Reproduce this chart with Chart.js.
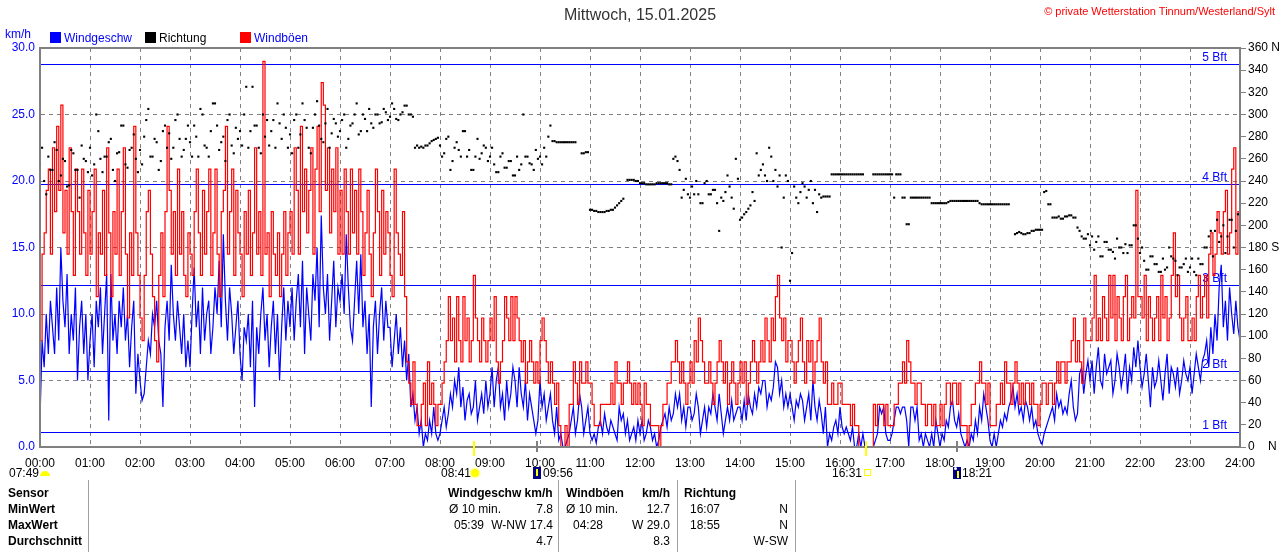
<!DOCTYPE html>
<html>
<head>
<meta charset="utf-8">
<title>Wind 15.01.2025</title>
<script src="https://cdn.jsdelivr.net/npm/chart.js@4.4.1/dist/chart.umd.min.js"></script>
<style>
  body { margin: 0; background: #fff; font-family: "Liberation Sans", Arial, sans-serif; }
  #page { position: relative; width: 1280px; height: 552px; overflow: hidden; background: #fff; }
  #chartBox { position: absolute; left: 0; top: 0; width: 1280px; height: 480px; }
  .t { position: absolute; font-size: 12px; line-height: 14px; white-space: nowrap; color: #000; }
  .r { text-align: right; }
  .b { font-weight: bold; }
  .box { position: absolute; width: 11px; height: 11px; }
  .vl { position: absolute; top: 480px; width: 1px; height: 72px; background: #a0a0a0; }
  .ico { position: absolute; }
</style>
</head>
<body>
<div id="page">
  <div id="chartBox"><canvas id="windChart"></canvas></div>

  <div class="t" style="left:0;width:1280px;top:6px;text-align:center;font-size:16px;line-height:18px;color:#333;">Mittwoch, 15.01.2025</div>
  <div class="t" style="right:5px;top:4px;color:#ff0000;font-size:11px;">© private Wetterstation Tinnum/Westerland/Sylt</div>
  <div class="t" style="left:5px;top:27px;color:#0000ff;">km/h</div>

  <div class="box" style="left:50px;top:32px;background:#0000ff;"></div>
  <div class="t" style="left:64px;top:31px;color:#0000ff;">Windgeschw</div>
  <div class="box" style="left:145px;top:32px;background:#000;"></div>
  <div class="t" style="left:159px;top:31px;">Richtung</div>
  <div class="box" style="left:240px;top:32px;background:#ff0000;"></div>
  <div class="t" style="left:254px;top:31px;color:#0000ff;">Windböen</div>

  <!-- sun / moon row -->
  <div class="t" style="left:9px;top:466px;">07:49</div>
  <div class="ico" style="left:40px;top:471px;width:10px;height:5px;border-radius:5px 5px 0 0;background:#ffff00;"></div>
  <div class="t" style="left:441px;top:466px;">08:41</div>
  <div class="ico" style="left:471px;top:469px;width:8px;height:8px;border-radius:4px;background:#ffff00;box-shadow:0 0 2px 1px #ffff80;"></div>
  <div class="ico" style="left:533px;top:467px;width:8px;height:12px;background:#000080;"></div>
  <div class="ico" style="left:536px;top:469px;width:2px;height:7px;background:#ffff00;"></div>
  <div class="t" style="left:543px;top:466px;">09:56</div>
  <div class="t" style="left:832px;top:466px;">16:31</div>
  <div class="ico" style="left:864px;top:469px;width:5px;height:5px;border:1px solid #ffff00;"></div>
  <div class="ico" style="left:953px;top:467px;width:8px;height:12px;background:#000080;"></div>
  <div class="ico" style="left:954px;top:467px;width:3px;height:3px;border-radius:2px;background:#fff;"></div>
  <div class="ico" style="left:957px;top:471px;width:2px;height:7px;background:#ffff00;"></div>
  <div class="t" style="left:962px;top:466px;">18:21</div>

  <!-- stats table -->
  <div class="vl" style="left:88px;"></div>
  <div class="vl" style="left:558px;"></div>
  <div class="vl" style="left:677px;"></div>
  <div class="vl" style="left:795px;"></div>

  <div class="t b" style="left:8px;top:486px;">Sensor</div>
  <div class="t b" style="left:8px;top:502px;">MinWert</div>
  <div class="t b" style="left:8px;top:518px;">MaxWert</div>
  <div class="t b" style="left:8px;top:534px;">Durchschnitt</div>

  <div class="t b" style="left:448px;top:486px;">Windgeschw km/h</div>
  <div class="t" style="left:449px;top:502px;">Ø 10 min.</div>
  <div class="t r" style="left:480px;width:73px;top:502px;">7.8</div>
  <div class="t" style="left:454px;top:518px;">05:39</div>
  <div class="t r" style="left:480px;width:73px;top:518px;">W-NW 17.4</div>
  <div class="t r" style="left:480px;width:73px;top:534px;">4.7</div>

  <div class="t b" style="left:566px;top:486px;">Windböen</div>
  <div class="t b" style="left:642px;top:486px;">km/h</div>
  <div class="t" style="left:566px;top:502px;">Ø 10 min.</div>
  <div class="t r" style="left:600px;width:70px;top:502px;">12.7</div>
  <div class="t" style="left:573px;top:518px;">04:28</div>
  <div class="t r" style="left:600px;width:70px;top:518px;">W 29.0</div>
  <div class="t r" style="left:600px;width:70px;top:534px;">8.3</div>

  <div class="t b" style="left:684px;top:486px;">Richtung</div>
  <div class="t" style="left:690px;top:502px;">16:07</div>
  <div class="t r" style="left:720px;width:68px;top:502px;">N</div>
  <div class="t" style="left:690px;top:518px;">18:55</div>
  <div class="t r" style="left:720px;width:68px;top:518px;">N</div>
  <div class="t r" style="left:720px;width:68px;top:534px;">W-SW</div>
</div>

<script>
// one value every 2.5 minutes, 00:00 .. 24:00 (24 per hour + end point)
const stepMinutes = 2.5;

// wind speed km/h
const windSpeed = [
  2, 8, 6, 10, 7, 11, 9, 7, 12, 8, 15, 11, 9, 13, 7, 10, 8, 12, 5, 9, 11, 7, 10, 5,
  8, 10, 6, 11, 9, 12, 7, 10, 13, 2, 13, 8, 10, 7, 11, 9, 12, 8, 10, 6, 9, 11, 4, 7,
  5, 3.5, 4, 6, 8, 7, 10, 9, 11, 8, 7, 3, 9, 11, 8, 13.7, 10, 8, 11, 9, 7, 10, 6, 8,
  6, 10, 13.5, 9, 11, 7, 12, 8, 10, 11, 7, 9, 12, 10, 14, 9, 16, 11, 8, 12, 10, 7, 9, 11,
  7, 5, 9, 8, 10, 6, 11, 3, 9, 7, 10, 12, 8, 10, 6, 9, 11, 7, 10, 5, 9, 12, 8, 11,
  9, 12, 8, 11, 13, 9, 14, 7, 12, 10, 8, 13, 11, 15, 9, 17.4, 12, 10, 13, 8, 11, 14, 9, 12,
  11, 13, 10, 16, 12, 9, 8, 11, 14, 10, 14.5, 9, 11, 7, 10, 3, 9, 11, 7, 10, 12, 8, 11, 9,
  9, 6, 8, 10, 7, 9, 6, 8, 5, 7, 3, 4, 2, 3, 1, 2, 0, 1, 0.5, 2, 1, 3, 1, 0.5,
  1, 2, 3, 1.5, 2.5, 4, 3, 5, 4, 6, 3, 4.5, 2, 3.5, 4, 2.5, 3, 5, 2, 3, 4, 2.5, 5, 3,
  4, 6, 3, 5, 6, 3, 4, 2, 5, 3, 4, 6, 5, 3, 6, 4, 3, 5, 2, 4, 3, 2, 1, 2,
  5, 3, 4, 2, 3, 4, 2, 1, 3, 0.5, 1, 0, 0, 0.5, 1, 2, 3, 1, 2, 4, 3, 1, 2, 3,
  1, 0.5, 1, 0.3, 1.5, 2, 1, 2.5, 1.5, 1, 2, 1.5, 1, 0.5, 3, 2, 2.5, 1, 2, 0.5, 1, 1.5, 0.5, 2,
  1, 2, 0.5, 1, 2, 1.5, 0.5, 1, 0, 0.5, 1.5, 2, 2.5, 1.5, 3, 2, 2.5, 4, 3, 4, 2, 3, 1.5, 3,
  3, 2, 2.5, 4, 3, 1, 2, 3, 1.5, 3, 2.5, 4, 3, 2, 4, 2.5, 1, 2, 3, 2, 3.5, 2, 2.5, 3,
  3, 2, 3.5, 2, 4, 3, 2.5, 4, 3, 4.5, 4, 5, 5, 3, 4, 3.5, 4.5, 6.4, 6, 4, 5, 3, 4, 3,
  4, 3, 2, 3.5, 3, 4, 3.5, 2, 3, 4, 2, 5, 3, 2, 3.5, 2.5, 1, 3, 0, 1, 0.5, 1.5, 2, 1,
  3, 1.5, 1, 1.5, 1, 0.5, 1.5, 0, 0, 1, 0, 1, 0, 0, 0, 0, 0, 0.5, 1, 3, 2.5, 3, 1, 0.5,
  0.5, 1, 2, 3, 3, 2.5, 3, 3, 2, 0, 3, 3, 2, 3, 0.5, 1, 0, 1, 0.5, 0, 1, 0, 2, 1,
  0, 1, 0.5, 2, 1.5, 3, 3.5, 2, 1.5, 2.5, 1, 0.5, 0, 0.5, 0, 1, 0.5, 2, 1, 3, 2, 4, 3, 2,
  0.5, 0, 1, 0, 1, 2, 1.5, 2.5, 2, 3, 3.5, 4.5, 3, 4, 2.5, 3, 2, 3.5, 3, 2, 3, 1.5, 2, 1,
  0.5, 0.2, 1, 1.5, 2, 2.5, 3, 2, 4, 3, 3.5, 2.5, 3, 2.5, 4, 5, 3, 2, 2.5, 5.5, 6, 4, 5.5, 6.5,
  5, 6.5, 4, 6, 7.5, 5, 4.5, 7, 5.5, 6, 6.5, 4, 5, 7, 6, 4.5, 5.5, 7, 4, 6, 5, 7.5, 6, 8,
  6, 4.5, 5.5, 7, 5, 3, 6, 4.5, 5, 6.5, 5, 3.5, 5.5, 7, 4, 6, 5.5, 4.5, 6, 4, 5, 6.5, 5.5, 5,
  6, 4, 5.5, 7, 6, 5, 6.5, 7, 8, 6, 9, 7, 10, 8, 12, 13.7, 9, 11, 8, 12, 10, 8.5, 11, 9,
  8
];

// gusts km/h
const windGusts = [
  8.0, 14.5, 16.1, 19.3, 20.9, 14.5, 22.5, 17.7, 24.1, 19.3, 25.7, 16.1, 19.3, 14.5, 22.5, 17.7, 12.9, 20.9, 17.7, 14.5, 20.9, 16.1, 12.9, 19.3,
  14.5, 17.7, 20.9, 11.3, 16.1, 14.5, 19.3, 12.9, 22.5, 16.1, 11.3, 17.7, 14.5, 20.9, 12.9, 17.7, 22.5, 14.5, 9.7, 16.1, 12.9, 24.1, 16.1, 12.9,
  9.7, 8.0, 12.9, 17.7, 19.3, 14.5, 11.3, 8.0, 6.4, 12.9, 16.1, 11.3, 17.7, 24.1, 19.3, 14.5, 17.7, 12.9, 20.9, 14.5, 17.7, 12.9, 11.3, 16.1,
  14.5, 12.9, 17.7, 20.9, 16.1, 12.9, 19.3, 14.5, 17.7, 20.9, 12.9, 16.1, 20.9, 14.5, 11.3, 17.7, 19.3, 24.1, 14.5, 17.7, 20.9, 12.9, 19.3, 16.1,
  14.5, 11.3, 17.7, 14.5, 19.3, 12.9, 16.1, 22.5, 14.5, 17.7, 12.9, 29.0, 14.5, 16.1, 11.3, 17.7, 14.5, 12.9, 16.1, 11.3, 14.5, 17.7, 12.9, 16.1,
  17.7, 14.5, 22.5, 19.3, 14.5, 24.1, 17.7, 20.9, 16.1, 19.3, 22.5, 14.5, 20.9, 24.1, 17.7, 27.4, 25.7, 19.3, 22.5, 16.1, 20.9, 17.7, 22.5, 14.5,
  19.3, 14.5, 20.9, 17.7, 14.5, 20.9, 16.1, 19.3, 14.5, 20.9, 17.7, 12.9, 16.1, 19.3, 14.5, 11.3, 16.1, 20.9, 17.7, 12.9, 19.3, 14.5, 17.7, 16.1,
  12.9, 11.3, 20.9, 16.1, 14.5, 12.9, 17.7, 11.3, 6.4, 4.8, 3.2, 6.4, 3.2, 1.6, 1.6, 3.2, 4.8, 1.6, 6.4, 3.2, 4.8, 3.2, 1.6, 3.2,
  3.2, 4.8, 6.4, 8.0, 11.3, 8.0, 9.7, 6.4, 11.3, 8.0, 6.4, 11.3, 8.0, 9.7, 6.4, 8.0, 12.9, 9.7, 8.0, 6.4, 9.7, 8.0, 6.4, 8.0,
  9.7, 8.0, 11.3, 6.4, 4.8, 6.4, 8.0, 11.3, 9.7, 8.0, 11.3, 8.0, 11.3, 9.7, 8.0, 6.4, 8.0, 4.8, 6.4, 8.0, 6.4, 4.8, 6.4, 4.8,
  8.0, 9.7, 8.0, 6.4, 4.8, 6.4, 4.8, 3.2, 4.8, 1.6, 0, 0, 1.6, 0, 3.2, 3.2, 6.4, 4.8, 3.2, 6.4, 4.8, 4.8, 6.4, 4.8,
  4.8, 3.2, 1.6, 1.6, 1.6, 3.2, 3.2, 3.2, 3.2, 3.2, 4.8, 3.2, 6.4, 4.8, 4.8, 3.2, 4.8, 4.8, 6.4, 4.8, 3.2, 4.8, 3.2, 4.8,
  3.2, 1.6, 4.8, 3.2, 3.2, 1.6, 1.6, 1.6, 1.6, 0, 1.6, 3.2, 3.2, 4.8, 4.8, 6.4, 6.4, 8.0, 6.4, 4.8, 6.4, 4.8, 3.2, 4.8,
  6.4, 4.8, 8.0, 6.4, 9.7, 8.0, 6.4, 4.8, 4.8, 6.4, 4.8, 3.2, 4.8, 6.4, 8.0, 6.4, 4.8, 6.4, 3.2, 4.8, 6.4, 4.8, 3.2, 4.8,
  6.4, 4.8, 6.4, 3.2, 4.8, 6.4, 8.0, 6.4, 4.8, 6.4, 8.0, 6.4, 9.7, 8.0, 6.4, 9.7, 8.0, 11.3, 12.9, 9.7, 8.0, 9.7, 6.4, 8.0,
  8.0, 6.4, 4.8, 6.4, 8.0, 9.7, 6.4, 4.8, 8.0, 6.4, 8.0, 4.8, 6.4, 8.0, 9.7, 6.4, 4.8, 6.4, 3.2, 3.2, 4.8, 3.2, 3.2, 4.8,
  4.8, 3.2, 3.2, 3.2, 3.2, 1.6, 3.2, 1.6, 1.6, 0, 0, 0, 0, 0, 0, 0, 3.2, 1.6, 3.2, 3.2, 3.2, 1.6, 3.2, 1.6,
  1.6, 1.6, 3.2, 3.2, 4.8, 4.8, 6.4, 4.8, 8.0, 6.4, 4.8, 4.8, 3.2, 4.8, 4.8, 3.2, 3.2, 1.6, 3.2, 3.2, 1.6, 3.2, 1.6, 1.6,
  3.2, 1.6, 3.2, 4.8, 4.8, 3.2, 4.8, 4.8, 3.2, 4.8, 1.6, 1.6, 1.6, 0, 1.6, 3.2, 3.2, 4.8, 4.8, 6.4, 4.8, 4.8, 3.2, 4.8,
  1.6, 1.6, 1.6, 3.2, 3.2, 4.8, 3.2, 6.4, 4.8, 4.8, 3.2, 4.8, 6.4, 4.8, 3.2, 4.8, 3.2, 4.8, 4.8, 3.2, 4.8, 3.2, 3.2, 1.6,
  3.2, 4.8, 4.8, 3.2, 4.8, 4.8, 3.2, 4.8, 6.4, 4.8, 6.4, 6.4, 4.8, 6.4, 6.4, 8.0, 9.7, 6.4, 8.0, 6.4, 4.8, 9.7, 8.0, 8.0,
  8.0, 9.7, 12.9, 8.0, 9.7, 8.0, 11.3, 9.7, 8.0, 12.9, 9.7, 12.9, 8.0, 11.3, 9.7, 8.0, 11.3, 12.9, 8.0, 9.7, 11.3, 9.7, 19.3, 11.3,
  11.3, 9.7, 12.9, 8.0, 11.3, 9.7, 8.0, 9.7, 11.3, 8.0, 12.9, 9.7, 11.3, 8.0, 9.7, 12.9, 16.1, 11.3, 12.9, 9.7, 8.0, 9.7, 11.3, 8.0,
  8.0, 9.7, 8.0, 11.3, 12.9, 9.7, 11.3, 12.9, 9.7, 14.5, 16.1, 12.9, 14.5, 17.7, 16.1, 14.5, 17.7, 19.3, 14.5, 16.1, 20.9, 22.5, 14.5, 17.7,
  14.5
];

// direction in degrees (right axis)
const windDir = [
  255, 270, 240, 228, 262, 250, 250, 275, 268, 240, 245, 260, 258, 235, 236, 268, 265, 250, 250, 225, 272, 260, 258, 248,
  270, 245, 255, 300, 285, 260, 248, 262, 262, 275, 278, 250, 240, 265, 266, 290, 290, 255, 252, 268, 270, 282, 260, 248,
  268, 255, 280, 295, 305, 262, 262, 278, 275, 250, 258, 285, 290, 270, 283, 260, 270, 295, 300, 278, 262, 268, 278, 290,
  275, 262, 290, 280, 262, 305, 300, 272, 270, 262, 285, 310, 310, 290, 268, 275, 280, 258, 295, 300, 272, 265, 288, 278,
  285, 272, 300, 325, 270, 285, 325, 290, 290, 270, 265, 300, 280, 295, 272, 285, 295, 270, 310, 292, 278, 300, 288, 270,
  282, 265, 295, 300, 270, 282, 310, 295, 288, 270, 265, 288, 300, 312, 290, 278, 275, 292, 305, 270, 283, 296, 292, 280,
  285, 295, 300, 270, 278, 290, 292, 300, 310, 282, 285, 300, 296, 285, 305, 292, 288, 300, 300, 292, 293, 305, 302, 295,
  298, 310, 305, 296, 295, 300, 302, 308, 308, 300, 300, 298, 270, 272, 270, 271, 270, 272, 272, 274, 276, 277, 278, 279,
  272, 262, 265, 278, 280, 250, 258, 270, 275, 268, 262, 285, 285, 262, 268, 250, 250, 262, 278, 260, 265, 272, 270, 258,
  262, 270, 255, 248, 248, 262, 265, 252, 252, 258, 258, 245, 245, 262, 250, 255, 300, 262, 262, 256, 255, 250, 268, 260,
  262, 255, 270, 262, 280, 290, 276, 276, 275, 275, 275, 275, 275, 275, 275, 275, 275, 275, null, null, 265, 265, 266, 266,
  214, 214, 213, 213, 212, 212, 212, 212, 213, 213, 214, 214, 216, 218, 220, 222, 224, null, 241, 241, 241, 241, 240, 240,
  238, 238, 238, 237, 237, 237, 237, 237, 238, 238, 238, 238, 238, 238, 237, 237, 260, 262, 258, 250, 225, 232, 242, 228,
  225, 235, 228, 240, 228, 220, 220, 238, 240, 228, 228, 232, 232, 220, 195, 225, 222, 230, 245, 235, 225, 215, 260, 242,
  205, 207, 210, 212, 215, 218, 230, 222, 265, 245, 250, 255, 245, 240, 270, 262, 240, 250, 235, 245, 180, 225, 245, 240,
  150, 175, 235, 225, 220, 230, 238, 235, 225, 232, 240, 220, 232, 212, 228, 225, 226, 226, 226, 226, 246, 246, 246, 246,
  246, 246, 246, 246, 246, 246, 246, 246, 246, 246, 246, 246, null, null, null, null, 246, 246, 246, 246, 246, 246, 246, 246,
  246, 246, 225, 246, 246, 246, 225, 225, 201, 201, 225, 225, 225, 225, 225, 225, 225, 225, 225, 225, 220, 220, 220, 220,
  220, 220, 220, 220, 221, 222, 222, 222, 222, 222, 222, 222, 222, 222, 222, 222, 222, 222, 222, 220, 219, 219, 219, 219,
  219, 219, 219, 219, 219, 219, 219, 219, 219, 219, null, null, 192, 193, 194, 193, 192, 192, 193, 193, 195, 195, 196, 196,
  196, 196, 230, 231, 219, 219, 207, 207, 207, 208, 206, 206, 208, 208, 209, 209, 207, 207, 198, 195, 190, 188, 188, 192,
  182, 190, 178, 185, 190, 172, 172, 185, 185, 178, 178, 176, 170, 188, 180, 180, 175, 183, 175, 182, 182, 200, 200, 188,
  175, 180, 168, 160, 160, 172, 172, 165, 165, 158, 158, 170, 160, 162, 180, 172, 170, 168, 155, 162, 162, 165, 170, 158,
  162, 170, 158, 155, 170, 165, 165, 180, 180, 190, 195, 172, 195, 205, 185, 190, 200, 175, 190, 205, 205, 180, 195, 210,
  null
];

const hourTicks = [
  '00:00', '01:00', '02:00', '03:00', '04:00', '05:00', '06:00', '07:00',
  '08:00', '09:00', '10:00', '11:00', '12:00', '13:00', '14:00', '15:00',
  '16:00', '17:00', '18:00', '19:00', '20:00', '21:00', '22:00', '23:00', '24:00'
];

const dirLabelDeg = [0, 180, 360];
const dirLabelName = ['N', 'S', 'N'];

// Beaufort thresholds in km/h
const bftKmh = [1.1, 5.7, 12.2, 19.8, 28.8];
const bftNames = ['1 Bft', '2 Bft', '3 Bft', '4 Bft', '5 Bft'];

// sun / moon events (minutes after midnight)
const eventMinutes = [521, 596, 991, 1101];
const eventColors = ['#ffff00', '#808080', '#ffff00', '#808080'];

Chart.defaults.font.family = '"Liberation Sans", Arial, sans-serif';
Chart.defaults.font.size = 12;

const toPoints = (arr) => arr.map((v, i) => ({ x: i * stepMinutes, y: v }));

const bftPlugin = {
  id: 'bft',
  beforeDatasetsDraw(chart) {
    const { ctx, chartArea } = chart;
    const yScale = chart.scales.y;

    ctx.save();
    ctx.strokeStyle = '#0000ff';
    ctx.lineWidth = 1;
    ctx.fillStyle = '#0000ff';
    ctx.font = '12px "Liberation Sans", Arial, sans-serif';
    ctx.textAlign = 'right';
    ctx.textBaseline = 'bottom';
    bftKmh.forEach((v, i) => {
      const y = Math.round(yScale.getPixelForValue(v)) + 0.5;
      ctx.beginPath();
      ctx.moveTo(chartArea.left, y);
      ctx.lineTo(chartArea.right, y);
      ctx.stroke();
      ctx.fillText(bftNames[i], chartArea.right - 13, y - 1);
    });
    ctx.restore();
  },
};

const framePlugin = {
  id: 'frame',
  afterDatasetsDraw(chart) {
    const { ctx, chartArea: a } = chart;
    const xScale = chart.scales.x;

    ctx.save();
    ctx.strokeStyle = '#808080';
    ctx.lineWidth = 2;
    ctx.strokeRect(a.left, a.top, a.right - a.left, a.bottom - a.top);

    eventMinutes.forEach((m, i) => {
      const x = Math.round(xScale.getPixelForValue(m));
      ctx.strokeStyle = eventColors[i];
      ctx.beginPath();
      ctx.moveTo(x, a.bottom - 6);
      ctx.lineTo(x, a.bottom + (eventColors[i] === '#ffff00' ? 9 : 5));
      ctx.stroke();
    });
    ctx.restore();
  },
};

const chart = new Chart(document.getElementById('windChart'), {
  type: 'line',
  data: {
    datasets: [
      {
        label: 'Richtung',
        data: toPoints(windDir),
        yAxisID: 'y2',
        showLine: false,
        pointStyle: 'rect',
        pointRadius: 1.5,
        pointBorderWidth: 0,
        pointBackgroundColor: '#000',
        order: 0,
      },
      {
        label: 'Windböen',
        data: toPoints(windGusts),
        yAxisID: 'y',
        borderColor: '#ff0000',
        borderWidth: 1.2,
        stepped: true,
        pointRadius: 0,
        order: 1,
      },
      {
        label: 'Windgeschw',
        data: toPoints(windSpeed),
        yAxisID: 'y',
        borderColor: '#0000ff',
        borderWidth: 1.2,
        tension: 0,
        pointRadius: 0,
        order: 2,
      },
    ],
  },
  options: {
    responsive: true,
    maintainAspectRatio: false,
    animation: false,
    layout: { padding: { top: 48, left: 0, right: 0, bottom: 0 } },
    plugins: {
      legend: { display: false },
      title: { display: false },
      tooltip: { enabled: false },
    },
    scales: {
      x: {
        type: 'linear',
        min: 0,
        max: 1440,
        ticks: {
          stepSize: 60,
          autoSkip: false,
          maxRotation: 0,
          maxTicksLimit: 100,
          color: '#000',
          padding: 9,
          callback: (v) => hourTicks[v / 60],
        },
        grid: { color: '#808080', lineWidth: 1, drawTicks: false },
        border: { color: '#808080', width: 2, dash: [4, 4] },
        afterFit: (scale) => { scale.height = 33; },
      },
      y: {
        position: 'left',
        min: 0,
        max: 30,
        ticks: {
          stepSize: 5,
          color: '#0000ff',
          padding: 5,
          maxTicksLimit: 100,
          callback: (v) => v.toFixed(1),
        },
        grid: { color: '#808080', lineWidth: 1, drawTicks: false },
        border: { color: '#808080', width: 2, dash: [4, 4] },
        afterFit: (scale) => { scale.width = 40; },
      },
      y2: {
        position: 'right',
        min: 0,
        max: 360,
        ticks: {
          stepSize: 20,
          autoSkip: false,
          maxTicksLimit: 100,
          color: '#000',
          padding: 2,
          callback: (v) => {
            const k = dirLabelDeg.indexOf(v);
            if (k < 0) return String(v);
            return v === 0 ? '0    ' + dirLabelName[k] : v + ' ' + dirLabelName[k];
          },
        },
        grid: {
          drawOnChartArea: false,
          drawTicks: true,
          tickLength: 6,
          tickColor: '#808080',
        },
        border: { color: '#808080', width: 2 },
        afterFit: (scale) => { scale.width = 40; },
      },
    },
  },
  plugins: [bftPlugin, framePlugin],
});
</script>
</body>
</html>
